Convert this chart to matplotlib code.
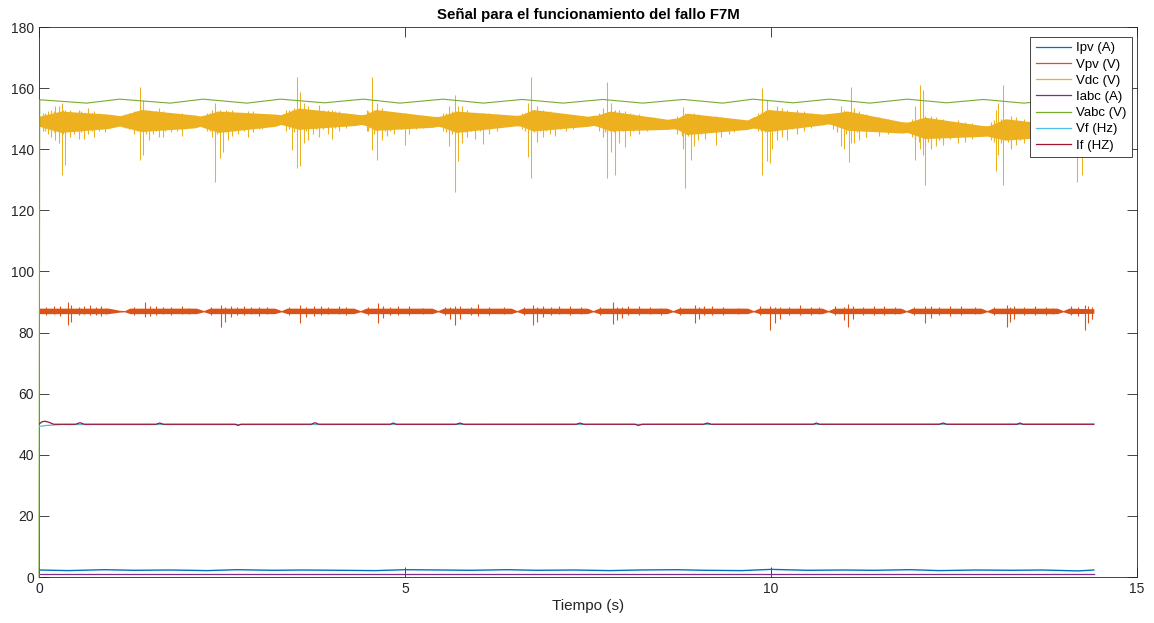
import matplotlib.pyplot as plt
from matplotlib.lines import Line2D

plt.rcParams['font.family'] = ['Liberation Sans', 'DejaVu Sans']

# colores por defecto de MATLAB
c_ipv = '#0072BD'
c_vpv = '#D95319'
c_vdc = '#EDB120'
c_iabc = '#7E2F8E'
c_vabc = '#77AC30'
c_vf = '#4DBEEE'
c_if = '#A2142F'

# ---------- Ipv (A) ----------
ipv_t = [0.0, 0.4, 0.9, 1.3, 1.8, 2.3, 2.7, 3.2, 3.6, 4.1, 4.6, 5.0, 5.5, 5.9, 6.4,
         6.8, 7.3, 7.8, 8.2, 8.7, 9.1, 9.6, 10.0, 10.5, 11.0, 11.4, 11.9, 12.3, 12.8,
         13.3, 13.7, 14.2, 14.41]
ipv = [2.3, 2.1, 2.4, 2.2, 2.3, 2.1, 2.4, 2.2, 2.3, 2.2, 2.1, 2.4, 2.3, 2.2, 2.4,
       2.2, 2.3, 2.1, 2.3, 2.4, 2.2, 2.1, 2.5, 2.2, 2.3, 2.2, 2.4, 2.1, 2.3,
       2.2, 2.3, 2.0, 2.3]

# ---------- Vpv (V): banda de ruido y picos ----------
vpv_t = [0.0, 0.95, 1.10, 1.17, 1.24, 2.15, 2.25, 2.33, 3.22, 3.31, 3.39, 4.30,
         4.39, 4.47, 5.37, 5.45, 5.53, 6.45, 6.53, 6.61, 7.49, 7.57, 7.65, 8.58,
         8.66, 8.74, 9.68, 9.76, 9.84, 10.70, 10.78, 10.86, 11.77, 11.85, 11.93,
         12.87, 12.95, 13.03, 13.91, 13.99, 14.07, 14.41]
vpv_lo = [86.2, 86.2, 86.7, 86.8, 86.2, 86.2, 86.8, 86.2, 86.2, 86.8, 86.2, 86.2,
          86.8, 86.2, 86.2, 86.8, 86.2, 86.2, 86.8, 86.2, 86.2, 86.8, 86.2, 86.2,
          86.8, 86.2, 86.2, 86.8, 86.2, 86.2, 86.8, 86.2, 86.2, 86.8, 86.2,
          86.2, 86.8, 86.2, 86.2, 86.8, 86.2, 86.3]
vpv_hi = [88.0, 88.0, 87.3, 87.2, 88.0, 88.0, 87.2, 88.0, 88.0, 87.2, 88.0, 88.0,
          87.2, 88.0, 88.0, 87.2, 88.0, 88.0, 87.2, 88.0, 88.0, 87.2, 88.0, 88.0,
          87.2, 88.0, 88.0, 87.2, 88.0, 88.0, 87.2, 88.0, 88.0, 87.2, 88.0,
          88.0, 87.2, 88.0, 88.0, 87.2, 88.0, 87.8]
vpv_spk_t = [0.20, 0.40, 0.44, 0.70, 0.85, 1.45, 1.60, 1.95, 2.49, 2.54, 2.80, 3.00,
             3.57, 3.75, 4.10, 4.63, 4.90, 5.62, 5.68, 6.00, 6.75, 6.80, 7.10, 7.84,
             7.90, 8.20, 8.96, 9.20, 9.99, 10.05, 10.40, 11.00, 11.05, 11.40, 12.10,
             12.45, 13.22, 13.26, 13.60, 14.29, 14.33]
vpv_spk_lo = [86.0, 82.5, 83.5, 85.8, 85.5, 85.2, 85.8, 86.0, 81.9, 83.5, 85.8, 85.5,
              83.0, 85.5, 86.0, 83.0, 85.8, 84.5, 82.5, 85.5, 82.5, 83.5, 86.0, 82.8,
              84.0, 85.8, 83.0, 85.7, 80.8, 83.0, 85.8, 84.0, 81.8, 85.8, 83.0,
              85.5, 81.8, 83.5, 85.8, 80.8, 83.0]
vpv_spk_hi = [88.8, 90.1, 89.0, 88.9, 88.6, 90.0, 88.8, 88.6, 89.0, 88.5, 88.8, 88.5,
              89.0, 88.7, 88.8, 89.6, 88.6, 88.5, 88.8, 89.5, 89.0, 88.5, 88.6, 90.0,
              88.5, 88.7, 88.9, 88.6, 88.8, 88.5, 88.9, 88.5, 89.3, 88.6, 88.8,
              88.7, 89.0, 88.5, 88.8, 89.0, 88.7]
# picos menores dentro de cada ráfaga
vpv_min_t = [0.10, 0.28, 0.55, 0.62, 0.78, 0.92, 1.30, 1.52, 1.70, 1.80, 2.05,
             2.35, 2.62, 2.70, 2.90, 3.12, 3.42, 3.65, 3.85, 3.95, 4.20,
             4.50, 4.70, 4.80, 5.05, 5.25, 5.55, 5.75, 5.90, 6.15, 6.35,
             6.62, 6.88, 7.00, 7.25, 7.40, 7.66, 7.96, 8.05, 8.35, 8.50,
             8.75, 9.02, 9.08, 9.35, 9.55, 9.85, 10.12, 10.25, 10.55, 10.65,
             10.88, 11.12, 11.25, 11.55, 11.70, 11.95, 12.18, 12.30, 12.60, 12.78,
             13.05, 13.32, 13.45, 13.75, 13.85, 14.10, 14.20, 14.38]
vpv_min_lo = [85.8, 85.5, 85.9, 86.0, 85.8, 86.0, 85.9, 85.4, 86.0, 85.8, 86.0,
              85.9, 85.2, 85.9, 86.0, 86.0, 85.9, 85.0, 85.8, 86.0, 85.9,
              85.8, 84.8, 85.9, 85.8, 86.0, 85.9, 84.5, 85.8, 85.9, 86.0,
              85.8, 85.0, 85.9, 85.8, 86.0, 85.9, 84.8, 85.8, 86.0, 85.9,
              85.8, 84.5, 85.7, 85.9, 86.0, 85.8, 84.6, 85.8, 85.9, 86.0,
              85.8, 84.5, 85.8, 85.9, 86.0, 85.9, 84.7, 85.8, 85.9, 86.0,
              85.8, 84.5, 85.8, 85.9, 86.0, 85.8, 85.5, 84.5]
vpv_min_hi = [88.3, 88.6, 88.4, 88.7, 88.3, 88.2, 88.4, 88.8, 88.3, 88.5, 88.2,
              88.3, 88.6, 88.4, 88.5, 88.3, 88.5, 88.4, 88.6, 88.3, 88.4,
              88.5, 88.6, 88.3, 88.7, 88.2, 88.4, 88.6, 88.3, 88.5, 88.4,
              88.5, 88.6, 88.3, 88.7, 88.3, 88.4, 88.5, 88.6, 88.4, 88.2,
              88.5, 88.4, 88.6, 88.5, 88.2, 88.7, 88.5, 88.4, 88.5, 88.3,
              88.6, 88.7, 88.4, 88.6, 88.3, 88.5, 88.6, 88.4, 88.6, 88.3,
              88.4, 88.7, 88.5, 88.4, 88.2, 88.6, 88.4, 88.5]

# ---------- Vdc (V): banda de ruido y picos ----------
vdc_t = [0.00, 0.30, 0.95, 1.10, 1.16, 1.40, 2.13, 2.20, 2.26, 2.45, 3.23, 3.30,
         3.36, 3.55, 4.33, 4.40, 4.46, 4.60, 5.38, 5.45, 5.51, 5.70, 6.46, 6.53,
         6.59, 6.75, 7.50, 7.57, 7.63, 7.80, 8.59, 8.66, 8.72, 8.85, 9.68, 9.75,
         9.81, 9.95, 10.71, 10.78, 10.84, 11.05, 11.79, 11.86, 11.92, 12.10, 12.88,
         12.95, 13.01, 13.20, 13.92, 13.99, 14.05, 14.25, 14.41]
vdc_lo = [147.5, 145.5, 146.8, 147.6, 147.2, 145.8, 147.0, 147.5, 147.0, 145.5, 147.5, 148.1,
          147.8, 146.5, 147.8, 148.1, 147.8, 146.2, 147.2, 147.5, 147.2, 145.5, 147.5, 147.7,
          147.5, 146.0, 147.5, 147.8, 147.5, 146.0, 146.5, 146.7, 146.5, 144.8, 146.5, 146.9,
          146.8, 145.8, 148.0, 148.3, 148.0, 146.2, 145.3, 145.5, 145.0, 143.5, 144.2,
          144.3, 144.0, 143.0, 144.2, 144.3, 144.0, 143.5, 144.5]
vdc_hi = [150.8, 152.5, 151.5, 151.0, 151.3, 153.0, 151.2, 150.9, 151.2, 152.5, 151.5, 151.3,
          151.8, 153.5, 151.5, 151.3, 151.5, 153.0, 150.8, 150.7, 151.0, 152.5, 151.2, 151.1,
          151.3, 153.0, 150.8, 151.1, 151.2, 152.5, 149.8, 150.1, 150.2, 151.8, 149.6, 150.5,
          151.0, 153.0, 151.5, 151.7, 151.8, 152.5, 149.0, 148.9, 149.2, 150.5, 147.8,
          147.7, 148.0, 150.0, 148.0, 147.9, 148.3, 149.0, 148.0]
vdc_spk_t = [0.22, 0.31, 0.36, 0.55, 0.75, 1.38, 1.42, 1.70, 1.95, 2.40, 2.47, 2.52,
             2.85, 3.45, 3.52, 3.56, 3.62, 4.00, 4.55, 4.62, 5.00, 5.60, 5.68, 5.73,
             6.07, 6.68, 6.72, 7.76, 7.82, 7.87, 8.00, 8.80, 8.82, 8.90, 9.25, 9.88,
             9.95, 9.98, 10.02, 10.22, 10.95, 11.00, 11.06, 11.09, 11.97, 12.04, 12.07,
             12.10, 13.07, 13.10, 13.17, 14.18, 14.25]
vdc_spk_lo = [143.0, 131.5, 135.0, 143.5, 144.0, 136.5, 138.0, 144.0, 144.5, 129.3, 137.0, 139.0,
              144.0, 139.7, 134.0, 134.5, 142.0, 143.5, 139.7, 136.5, 141.4, 141.0, 126.0, 136.0,
              141.8, 137.5, 130.6, 130.6, 139.0, 131.5, 140.9, 140.0, 127.3, 136.5, 141.5, 131.5,
              136.0, 135.5, 140.0, 143.0, 141.0, 140.0, 135.8, 142.0, 136.5, 140.0, 138.0,
              128.3, 133.0, 138.0, 128.3, 129.3, 131.5]
vdc_spk_hi = [154.0, 155.0, 153.0, 152.8, 152.5, 160.3, 156.0, 152.5, 152.0, 155.0, 153.0, 152.0,
              152.5, 153.0, 163.6, 158.7, 155.0, 153.0, 163.6, 155.0, 152.0, 154.0, 157.7, 154.0,
              152.0, 155.0, 163.6, 162.0, 155.0, 153.0, 152.5, 153.9, 152.0, 151.0, 151.0, 160.0,
              156.0, 153.0, 153.0, 153.0, 154.0, 153.0, 152.0, 160.3, 154.0, 161.0, 159.4,
              151.0, 153.0, 155.0, 161.0, 150.0, 151.0]
# picos menores dentro de cada ráfaga
vdc_min_t = [0.05, 0.12, 0.17, 0.27, 0.42, 0.48, 0.62, 0.67, 0.82, 0.90,
             1.18, 1.30, 1.50, 1.56, 1.64, 1.80, 1.88, 2.00,
             2.30, 2.36, 2.58, 2.64, 2.72, 2.92, 3.05,
             3.38, 3.68, 3.74, 3.82, 3.95, 4.10, 4.20,
             4.48, 4.68, 4.75, 4.85, 5.05, 5.15, 5.25,
             5.52, 5.78, 5.85, 5.95, 6.15, 6.25,
             6.60, 6.80, 6.88, 6.98, 7.05, 7.20, 7.30,
             7.65, 7.70, 7.93, 8.08, 8.20, 8.30, 8.40,
             8.72, 8.95, 9.00, 9.10, 9.32, 9.42, 9.50,
             9.82, 10.08, 10.15, 10.35, 10.45, 10.55,
             10.85, 11.14, 11.20, 11.30, 11.48, 11.60,
             11.92, 12.18, 12.25, 12.35, 12.55, 12.65, 12.75,
             13.00, 13.28, 13.35, 13.45, 13.65, 13.75, 13.90,
             14.05, 14.12, 14.32, 14.38]
vdc_min_lo = [146.0, 145.0, 144.0, 142.0, 144.0, 145.0, 143.5, 145.0, 146.0, 145.5,
              147.0, 145.0, 143.0, 145.0, 144.0, 145.5, 146.0, 146.5,
              146.0, 144.0, 143.0, 144.5, 145.0, 145.5, 146.5,
              146.0, 143.0, 145.0, 144.0, 145.0, 146.0, 147.0,
              146.0, 143.0, 144.5, 145.0, 145.0, 146.5, 147.0,
              146.0, 142.0, 144.0, 143.5, 145.0, 146.0,
              146.5, 142.5, 144.0, 145.0, 144.5, 146.0, 146.5,
              146.0, 144.0, 142.0, 144.5, 145.0, 146.0, 146.5,
              145.0, 141.0, 143.0, 143.5, 144.0, 145.0, 145.5,
              146.0, 143.0, 144.0, 145.0, 146.0, 147.0,
              146.5, 142.0, 143.0, 144.0, 144.5, 145.0,
              144.0, 140.0, 141.0, 141.5, 142.0, 142.5, 143.5,
              143.0, 140.0, 141.5, 142.0, 142.5, 143.0, 143.5,
              143.0, 141.5, 141.0, 142.0]
vdc_min_hi = [152.0, 152.5, 153.0, 154.0, 153.0, 152.0, 152.0, 153.5, 152.0, 151.5,
              151.5, 152.5, 153.0, 152.0, 153.5, 152.0, 151.5, 151.0,
              152.0, 153.0, 152.5, 153.0, 152.0, 152.5, 151.5,
              153.0, 154.0, 153.0, 154.5, 153.0, 152.5, 152.0,
              153.0, 153.5, 152.5, 152.0, 151.5, 151.0, 151.0,
              152.0, 154.0, 153.0, 152.0, 152.0, 151.5,
              152.0, 154.0, 153.0, 152.5, 151.5, 151.5, 151.0,
              152.0, 153.5, 153.0, 152.0, 151.5, 150.5, 150.5,
              151.0, 152.0, 151.5, 151.0, 150.5, 150.0, 150.0,
              152.0, 154.0, 153.5, 153.0, 152.5, 152.0,
              152.0, 153.5, 152.5, 151.5, 150.5, 150.0,
              150.0, 151.0, 150.5, 150.0, 149.5, 149.0, 148.5,
              149.0, 151.0, 150.5, 150.0, 149.5, 149.0, 148.5,
              149.5, 150.5, 150.0, 149.5]
# rizado corto que rellena la banda
vdc_fine_t = [0.08, 0.20, 0.33, 0.52, 0.58, 0.72, 0.86,
              1.23, 1.34, 1.46, 1.60, 1.72, 1.94,
              2.33, 2.43, 2.55, 2.68, 2.80, 3.00,
              3.42, 3.49, 3.65, 3.78, 3.88, 4.05,
              4.50, 4.58, 4.72, 4.80, 4.95,
              5.56, 5.64, 5.82, 5.90, 6.02,
              6.64, 6.76, 6.84, 6.93, 7.12,
              7.73, 7.85, 7.98, 8.12,
              8.78, 8.87, 9.05, 9.18,
              9.86, 9.92, 10.05, 10.28,
              10.90, 11.02, 11.17, 11.25,
              11.96, 12.02, 12.14, 12.30, 12.45,
              13.04, 13.14, 13.24, 13.40, 13.55,
              14.08, 14.15, 14.22, 14.28]
vdc_fine_lo = [146.0, 145.5, 145.0, 146.0, 145.5, 146.0, 146.5,
               146.5, 146.0, 145.0, 146.0, 146.0, 146.5,
               146.0, 145.0, 145.5, 146.0, 146.0, 146.5,
               146.5, 145.5, 146.0, 146.5, 146.5, 147.0,
               146.0, 145.0, 146.0, 146.0, 146.5,
               145.5, 145.0, 145.5, 146.0, 146.0,
               146.0, 145.5, 146.0, 146.0, 146.5,
               145.5, 145.5, 146.0, 146.0,
               144.5, 144.5, 145.0, 145.5,
               146.0, 145.5, 146.0, 146.5,
               145.5, 145.0, 145.5, 146.0,
               143.0, 142.5, 142.5, 143.0, 143.5,
               142.5, 142.0, 142.5, 143.0, 143.5,
               142.5, 142.5, 143.0, 143.0]
vdc_fine_hi = [152.0, 152.5, 153.0, 152.0, 152.5, 152.0, 151.5,
               152.0, 152.5, 153.0, 152.5, 152.0, 151.5,
               152.0, 152.5, 153.0, 152.0, 152.0, 151.5,
               153.0, 153.5, 153.0, 152.5, 153.0, 152.5,
               152.5, 153.0, 152.5, 152.0, 152.0,
               152.0, 152.5, 152.0, 151.5, 151.5,
               152.0, 152.5, 152.0, 152.0, 151.5,
               152.0, 152.5, 152.0, 151.5,
               151.0, 151.0, 150.5, 150.5,
               152.0, 152.5, 152.0, 152.0,
               152.0, 152.5, 152.0, 151.5,
               149.5, 150.0, 150.0, 149.5, 149.0,
               149.5, 150.0, 149.5, 149.0, 148.5,
               149.0, 149.5, 149.0, 149.0]

# ---------- Iabc (A) ----------
iabc_t = [0.0, 14.41]
iabc = [0.9, 0.9]

# ---------- Vabc (V) ----------
vabc_t = [0.0, 0.01, 0.65, 1.10, 1.79, 2.24, 2.84, 3.30, 3.90, 4.43, 4.93, 5.52, 6.07,
          6.60, 7.16, 7.70, 8.25, 8.80, 9.34, 9.75, 10.30, 10.80, 11.35, 11.86, 12.40,
          12.90, 13.45, 13.95, 14.41]
vabc = [0.0, 156.2, 155.1, 156.4, 155.1, 156.4, 155.1, 156.4, 155.2, 156.4, 155.1, 156.4, 155.1,
        156.3, 155.1, 156.3, 155.1, 156.3, 155.1, 156.4, 155.2, 156.4, 155.1, 156.4, 155.2,
        156.3, 155.1, 156.2, 155.1]

# ---------- Vf (Hz) e If (HZ) ----------
vf_t = [0.0, 0.1, 0.3, 14.41]
vf = [49.3, 49.6, 49.9, 50.0]
if_t = [0.0, 0.04, 0.08, 0.14, 0.20, 0.50, 0.56, 0.62, 1.60, 1.65, 1.70, 2.68, 2.72, 2.76,
        3.72, 3.77, 3.82, 4.80, 4.84, 4.88, 5.70, 5.75, 5.80, 7.34, 7.39, 7.44, 8.14,
        8.19, 8.24, 9.08, 9.13, 9.18, 10.58, 10.62, 10.66, 12.30, 12.35, 12.40, 13.36,
        13.40, 13.44, 14.41]
if_v = [50.0, 50.8, 51.0, 50.6, 50.0, 50.0, 50.5, 50.0, 50.0, 50.4, 50.0, 50.0, 49.6, 50.0,
        50.0, 50.5, 50.0, 50.0, 50.4, 50.0, 50.0, 50.4, 50.0, 50.0, 50.4, 50.0, 50.0,
        49.6, 50.0, 50.0, 50.4, 50.0, 50.0, 50.4, 50.0, 50.0, 50.4, 50.0, 50.0,
        50.4, 50.0, 50.0]

fig = plt.figure(figsize=(11.54, 6.23), dpi=100)
ax = fig.add_axes([0.0338, 0.0738, 0.9515, 0.8828])

# orden de trazado como en MATLAB: las últimas series quedan encima
ax.plot(ipv_t, ipv, color=c_ipv, lw=1.0, zorder=2)

ax.fill_between(vpv_t, vpv_lo, vpv_hi, color=c_vpv, lw=0, zorder=3)
ax.vlines(vpv_min_t, vpv_min_lo, vpv_min_hi, color=c_vpv, lw=0.8, zorder=3)
ax.vlines(vpv_spk_t, vpv_spk_lo, vpv_spk_hi, color=c_vpv, lw=0.8, zorder=3)

ax.fill_between(vdc_t, vdc_lo, vdc_hi, color=c_vdc, lw=0, zorder=4)
ax.vlines(vdc_fine_t, vdc_fine_lo, vdc_fine_hi, color=c_vdc, lw=0.9, zorder=4)
ax.vlines(vdc_min_t, vdc_min_lo, vdc_min_hi, color=c_vdc, lw=0.8, zorder=4)
ax.vlines(vdc_spk_t, vdc_spk_lo, vdc_spk_hi, color=c_vdc, lw=0.75, zorder=4)

ax.plot(iabc_t, iabc, color=c_iabc, lw=0.9, zorder=5)
# el escalón inicial de Vabc queda sobre el eje izquierdo
ax.plot(vabc_t, vabc, color=c_vabc, lw=0.8, zorder=6, clip_on=False)
ax.plot(vf_t, vf, color=c_vf, lw=0.9, zorder=7)
ax.plot(if_t, if_v, color=c_if, lw=0.9, zorder=8)

ax.set_xlim(0, 15)
ax.set_ylim(0, 180)
ax.set_xticks([0, 5, 10, 15])
ax.set_yticks(range(0, 181, 20))
ax.tick_params(direction='in', length=7, width=0.6, colors='#262626', labelsize=10,
               top=True, right=True)
for s in ax.spines.values():
    s.set_color('#262626')
    s.set_linewidth(0.6)

ax.set_title('Señal para el funcionamiento del fallo F7M', fontsize=10.8, fontweight='bold',
             color='black', pad=6)
ax.set_xlabel('Tiempo (s)', fontsize=11, color='#262626', labelpad=2)

names = ['Ipv (A)', 'Vpv (V)', 'Vdc (V)', 'Iabc (A)', 'Vabc (V)', 'Vf (Hz)', 'If (HZ)']
colors = [c_ipv, c_vpv, c_vdc, c_iabc, c_vabc, c_vf, c_if]
handles = [Line2D([], [], color=c, lw=0.9) for c in colors]
leg = ax.legend(handles, names, loc='upper right', bbox_to_anchor=(0.9955, 0.982),
                borderaxespad=0, fontsize=9.5, handlelength=2.7, handletextpad=0.4,
                labelspacing=0.3, borderpad=0.4, fancybox=False, framealpha=1,
                edgecolor='#262626')
leg.get_frame().set_linewidth(0.6)
leg.set_zorder(10)

fig.savefig('out.png', dpi=100)
